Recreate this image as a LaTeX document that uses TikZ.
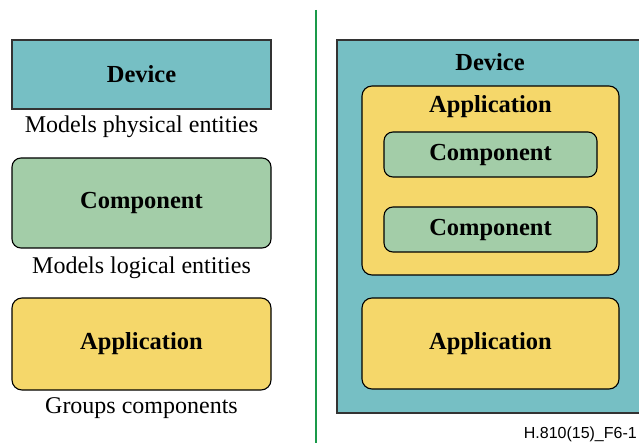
\documentclass[tikz,border=0pt]{standalone}
\usepackage{fontspec}
\setmainfont{Liberation Serif}
\newfontfamily\figfont{Liberation Sans}
\usepackage{tikz}
\usetikzlibrary{positioning}

\definecolor{devteal}{HTML}{76BFC4}
\definecolor{compgreen}{HTML}{A3CDA8}
\definecolor{appyellow}{HTML}{F5D76A}
\definecolor{sepgreen}{HTML}{1A9A4A}

\begin{document}
\begin{tikzpicture}[x=1pt, y=-1pt,
      box/.style={draw=black, line width=1.1pt, inner sep=0pt, font=\fontsize{24.5}{26}\selectfont\bfseries},
      devbox/.style={box, draw=black!80, line width=2.4pt, fill=devteal},
      compbox/.style={box, fill=compgreen, rounded corners=9pt},
      appbox/.style={box, fill=appyellow, rounded corners=10pt},
      caption/.style={font=\fontsize{24}{26}\selectfont, inner sep=0pt}
    ]
    \useasboundingbox (0,0) rectangle (639,443);

    % legend on the left
    \node[devbox, minimum width=259pt, minimum height=69pt] (devkey) at (141.5,74.5) {Device};
    \node[caption] (devtxt) at (141.5,127) {Models physical entities};
    \node[compbox, minimum width=259pt, minimum height=90pt] (compkey) at (141.5,203) {Component};
    \node[caption] (comptxt) at (141.5,268) {Models logical entities};
    \node[appbox, minimum width=259pt, minimum height=92pt] (appkey) at (141.5,344) {Application};
    \node[caption] (apptxt) at (141.5,408) {Groups components};

    % separator
    \coordinate (septop) at (316,10);
    \coordinate (sepbot) at (316,443);
    \draw[sepgreen, line width=1.6pt] (septop) -- (sepbot);

    % nested example on the right
    \node[devbox, minimum width=306pt, minimum height=373pt] (dev) at (490,226.5) {};
    \node[box, draw=none] (devlbl) at (dev.north) [yshift=-23pt] {Device};
    \node[appbox, minimum width=257pt, minimum height=189pt] (appa) at (490.5,180.5) {};
    \node[box, draw=none] (appalbl) at (appa.north) [yshift=-21pt] {Application};
    \foreach \cy/\cname in {154.5/compa,229.5/compb}{%
      \node[compbox, minimum width=213pt, minimum height=45pt] (\cname) at (490.5,\cy) {Component};
    }
    \node[appbox, minimum width=257pt, minimum height=91pt] (appb) at (490.5,343.5) {Application};

    \node[font=\figfont\fontsize{16}{18}\selectfont, anchor=base east, inner sep=0pt] (figid) at (637,438) {H.810(15)\_F6-1};
  \end{tikzpicture}
\end{document}
